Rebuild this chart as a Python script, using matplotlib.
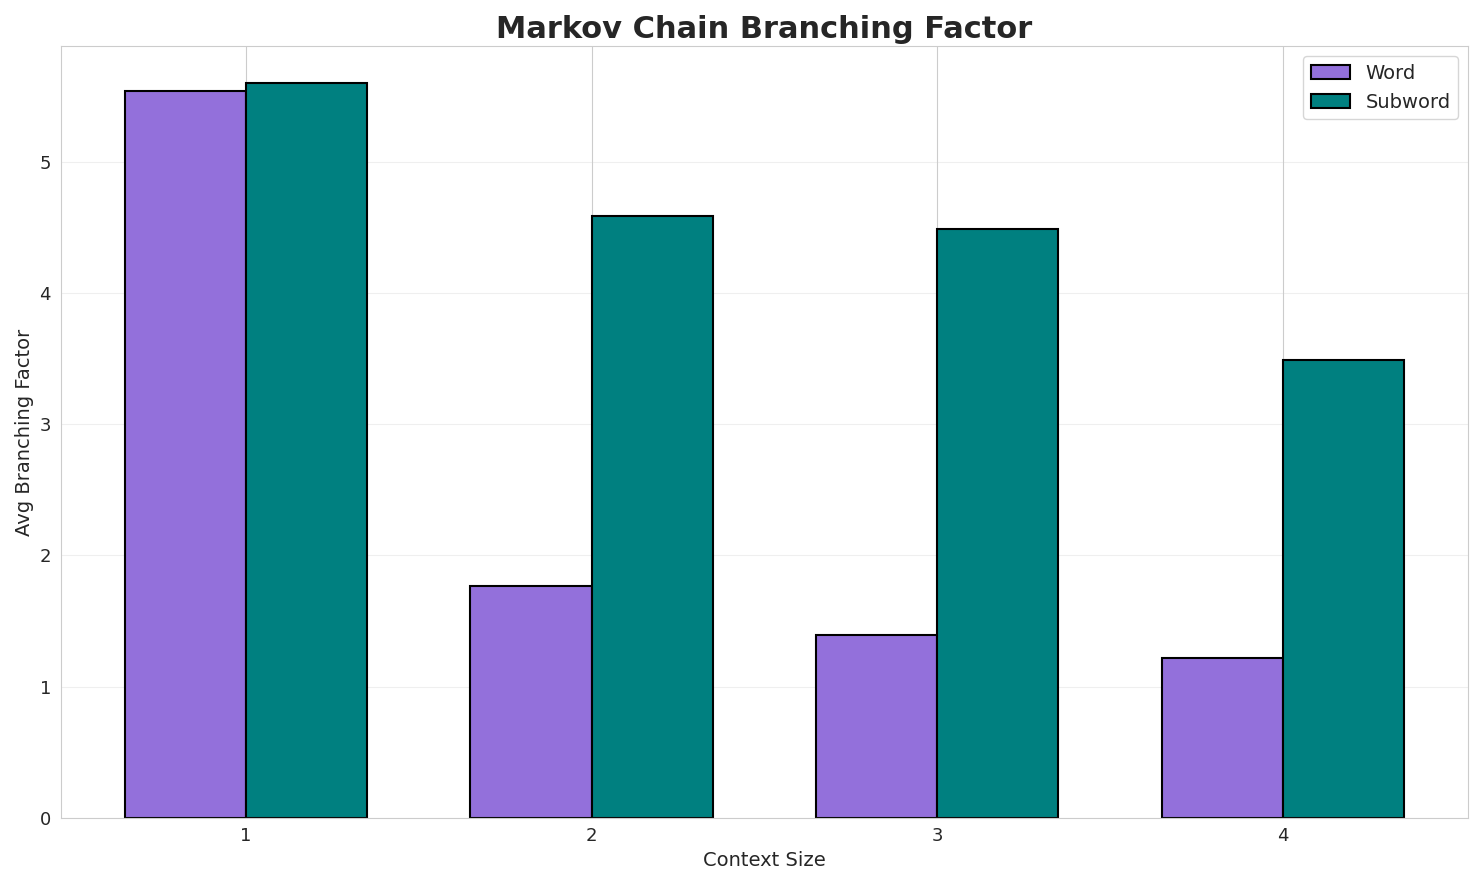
import matplotlib
matplotlib.use("Agg")
import matplotlib.pyplot as plt
import seaborn as sns
import numpy as np

sns.set_style("whitegrid")

context = [1, 2, 3, 4]
word = [5.54, 1.77, 1.39, 1.22]
subword = [5.60, 4.59, 4.49, 3.49]

fig, ax = plt.subplots(figsize=(14.83, 8.85), dpi=100)
x = np.array(context)
w = 0.35
ax.bar(x - w/2, word, w, label="Word", color="mediumpurple", edgecolor="black", linewidth=1.5)
ax.bar(x + w/2, subword, w, label="Subword", color="teal", edgecolor="black", linewidth=1.5)
ax.set_xticks(x)
ax.set_xticklabels([str(c) for c in context])
ax.tick_params(labelsize=13)
ax.set_xlabel("Context Size", fontsize=14)
ax.set_ylabel("Avg Branching Factor", fontsize=14)
ax.set_title("Markov Chain Branching Factor", fontsize=22, fontweight="bold")
ax.grid(axis="y", alpha=0.3)
ax.legend(fontsize=14)
fig.tight_layout()
fig.savefig("out.png")
